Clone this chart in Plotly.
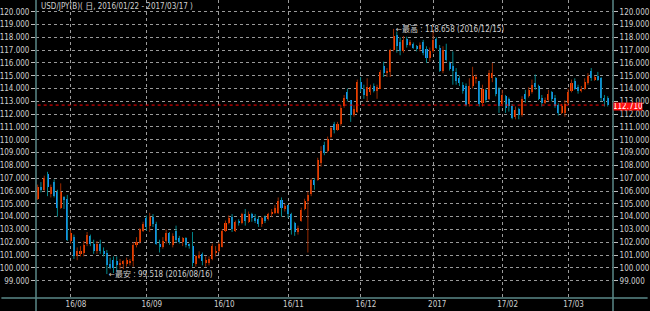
import pandas as pd
import plotly.graph_objects as go

# ---- data -------------------------------------------------------------
dates = [d.strftime("%Y-%m-%d") for d in pd.bdate_range("2016-07-18", "2017-03-17")
         if d.strftime("%Y-%m-%d") != "2017-01-02"]

opens = [
    105.4, 106.3, 106.1, 107.3, 105.8, 106.7, 105.9, 104.7, 105.5, 105.4,
    102.1, 102.4, 100.9, 101.1, 101.2, 101.9, 102.5, 101.9, 101.3, 101.9, 101.3, 101.2,
    100.3, 100.6, 100.5, 100.2, 100.3, 100.3, 100.4, 100.5, 101.8, 102.0, 102.9,
    103.9, 103.3, 104.0, 103.4, 101.9, 101.6, 102.1, 102.7, 101.8, 102.9, 102.3, 102.0,
    102.3, 101.9, 101.7, 100.3, 100.8, 101.1, 100.4, 100.4, 100.7, 101.2,
    101.3, 101.6, 102.9, 103.5, 104.0, 102.9, 103.7, 103.5, 104.2, 103.6, 104.2,
    103.9, 103.8, 103.4, 104.0, 103.8, 104.2, 104.3, 104.3, 105.3, 104.6,
    104.9, 104.2, 103.5, 102.8, 103.7, 104.6, 105.2, 105.8, 106.9, 106.9, 108.2,
    109.6, 109.1, 110.2, 111.2, 110.8, 111.2, 112.6, 113.7, 113.1, 111.9, 112.2,
    114.5, 114.0, 113.4, 113.7, 114.2, 113.8, 114.0, 115.8, 115.2, 115.3, 117.0,
    118.2, 117.6, 116.9, 117.9, 117.4, 117.5, 117.3, 117.1, 117.6, 117.1, 116.4,
    116.9, 117.9, 117.2, 115.4, 117.0, 116.0, 115.8, 115.3, 114.8, 114.3, 114.2,
    112.8, 114.2, 114.8, 114.6, 112.9, 113.9, 113.2, 114.8, 114.8, 114.0,
    112.8, 113.4, 113.2, 112.6, 111.8, 112.4, 111.9, 113.6, 113.4, 113.7,
    114.4, 114.2, 113.3, 112.9, 113.1, 113.7, 113.3, 112.7, 112.1, 112.1,
    112.9, 113.8, 114.6, 114.1, 113.8, 114.0, 114.4, 115.4, 114.7, 115.0, 114.8, 113.3, 113.3,
]
highs = [
    106.5, 106.7, 107.2, 107.5, 106.5, 106.9, 106.1, 106.6, 105.6, 105.7,
    102.95, 102.6, 101.6, 101.7, 102.1, 102.8, 102.6, 102.2, 102.1, 102.2, 101.6, 101.4,
    100.8, 100.9, 100.9, 100.7, 100.6, 100.8, 100.7, 102.0, 102.4, 103.1, 103.6,
    104.1, 104.3, 104.2, 103.6, 102.2, 102.4, 103.0, 102.8, 102.7, 103.3, 102.5, 102.4,
    102.4, 101.9, 102.8, 101.0, 101.3, 101.2, 100.9, 100.9, 101.9, 101.7,
    102.0, 103.0, 103.7, 104.1, 104.2, 103.7, 103.8, 104.3, 104.6, 104.4, 104.3,
    104.2, 104.0, 104.0, 104.1, 104.3, 104.6, 104.9, 105.5, 105.5, 105.0,
    104.9, 104.3, 103.6, 103.3, 104.7, 105.4, 105.95, 107.0, 107.0, 108.6, 109.5,
    109.85, 110.25, 111.0, 111.4, 111.4, 112.7, 113.5, 114.0, 113.1, 112.7, 114.7,
    114.9, 114.3, 114.8, 114.3, 114.4, 114.3, 115.45, 116.1, 115.6, 117.1, 118.658,
    118.45, 118.0, 118.1, 118.05, 117.8, 117.6, 117.4, 117.6, 117.8, 117.3, 117.2,
    118.6, 118.0, 117.4, 117.3, 117.5, 116.1, 116.9, 115.6, 115.0, 114.5, 114.4,
    114.8, 115.7, 115.1, 114.6, 114.3, 114.0, 115.45, 116.0, 114.9, 114.1,
    113.9, 113.5, 113.3, 112.8, 112.6, 112.5, 113.4, 113.9, 114.1, 114.7,
    115.1, 114.3, 113.5, 113.3, 113.9, 113.8, 113.5, 112.85, 112.8, 113.1,
    114.0, 114.7, 114.8, 114.3, 114.2, 114.8, 115.2, 115.6, 115.0, 115.3, 114.9, 113.5, 113.4,
]
lows = [
    105.3, 105.9, 106.0, 105.6, 105.5, 105.5, 104.0, 104.6, 104.6, 102.1,
    101.9, 100.7, 100.6, 100.9, 100.9, 101.7, 101.7, 101.1, 101.1, 101.1, 100.9, 99.518,
    99.9, 99.6, 99.8, 99.9, 99.9, 100.1, 100.2, 100.1, 101.6, 101.9, 102.8,
    102.9, 102.8, 103.2, 101.8, 101.2, 101.5, 101.9, 101.8, 101.6, 102.0, 101.9, 101.7,
    101.6, 101.5, 100.1, 100.1, 100.7, 100.2, 100.1, 100.2, 100.6, 100.9,
    101.2, 101.6, 102.8, 103.4, 102.8, 102.8, 103.3, 103.4, 103.3, 103.5, 103.6,
    103.5, 103.2, 103.2, 103.5, 103.7, 104.0, 104.2, 104.2, 104.0, 104.4,
    103.9, 102.6, 102.5, 102.6, 103.6, 104.5, 101.2, 105.6, 106.1, 106.8, 107.9,
    108.8, 109.0, 110.1, 110.5, 110.7, 111.1, 112.5, 113.0, 111.4, 111.8, 112.1,
    113.75, 113.2, 113.0, 113.5, 113.7, 113.2, 114.0, 114.9, 114.9, 114.9, 116.9,
    116.8, 116.6, 116.8, 117.2, 117.3, 117.1, 116.9, 116.9, 116.6, 116.0, 116.1,
    116.8, 117.1, 115.3, 115.2, 116.1, 115.4, 114.3, 114.3, 114.2, 113.6, 112.6,
    112.6, 114.0, 114.4, 112.6, 112.6, 112.9, 113.1, 114.5, 113.4, 112.1,
    112.6, 112.1, 112.2, 111.6, 111.6, 111.6, 111.8, 112.9, 113.3, 113.6,
    113.9, 113.1, 112.6, 112.8, 113.0, 113.0, 112.5, 111.9, 112.0, 111.8,
    112.8, 113.7, 113.9, 113.6, 113.7, 113.9, 114.3, 114.6, 114.6, 114.6, 113.0, 112.6, 112.6,
]
closes = [
    106.3, 106.1, 107.0, 106.3, 106.3, 105.6, 104.7, 105.9, 105.3, 102.2,
    102.7, 100.9, 101.3, 101.3, 101.8, 102.6, 101.9, 101.3, 101.9, 101.3, 101.1, 100.2,
    100.1, 100.0, 100.2, 100.4, 100.5, 100.6, 100.5, 101.8, 102.0, 103.0, 103.4,
    103.2, 104.0, 103.4, 101.9, 101.6, 102.1, 102.7, 102.0, 102.5, 102.2, 102.0, 102.3,
    101.8, 101.7, 100.4, 100.9, 101.0, 100.5, 100.6, 100.7, 101.7, 101.3,
    101.9, 102.9, 103.5, 103.9, 103.0, 103.6, 103.5, 104.2, 103.7, 104.2, 103.9,
    103.7, 103.4, 103.9, 103.7, 104.2, 104.4, 104.7, 105.2, 104.7, 104.8,
    104.2, 103.0, 102.8, 103.1, 104.5, 105.2, 105.7, 106.9, 106.5, 108.4, 109.1,
    108.95, 110.1, 110.9, 110.8, 111.2, 112.5, 113.3, 113.2, 111.9, 112.4, 114.5,
    114.0, 113.5, 114.1, 114.1, 113.8, 114.1, 115.3, 115.2, 115.4, 117.0, 118.1,
    117.3, 116.9, 117.8, 117.4, 117.6, 117.2, 117.1, 117.4, 116.8, 116.4, 116.9,
    117.8, 117.2, 115.4, 117.0, 116.2, 115.5, 115.4, 114.6, 114.4, 113.8, 112.7,
    114.2, 115.0, 114.9, 112.8, 114.0, 113.1, 115.2, 115.2, 113.6, 112.6,
    113.5, 112.5, 112.6, 111.7, 112.3, 111.9, 113.2, 113.2, 113.9, 114.3,
    114.1, 113.2, 112.9, 113.1, 113.6, 113.2, 112.6, 112.1, 112.6, 112.8,
    113.7, 114.4, 114.0, 113.8, 114.0, 114.5, 115.0, 114.8, 114.9, 114.7, 113.3, 113.0, 112.71,
]

month_ticks = ["2016-08-01", "2016-09-01", "2016-10-03", "2016-11-01", "2016-12-01",
               "2017-01-03", "2017-02-01", "2017-03-01"]
month_labels = ["16/08", "16/09", "16/10", "16/11", "16/12", "2017", "17/02", "17/03"]
price_ticks = list(range(99, 121))
title_text = "USD/JPY(B)( 日, 2016/01/22 - 2017/03/17 )"
last_price = closes[-1]

# ---- styling ----------------------------------------------------------
UP_BODY, UP_WICK = "#ff4500", "#9a2a00"
DN_BODY, DN_WICK = "#1e90ff", "#00868b"
TXT = "#cfcfcf"
GRID = "#9a9a9a"
AXIS = "#5a8888"
FONT = "Liberation Sans Narrow, DejaVu Sans Condensed, Noto Sans CJK JP, sans-serif"

fig = go.Figure()

for is_up, wick_col, body_col in [(True, UP_WICK, UP_BODY), (False, DN_WICK, DN_BODY)]:
    wx, wy, bx, bbase, bh = [], [], [], [], []
    for d, o, h, l, c in zip(dates, opens, highs, lows, closes):
        if (c >= o) != is_up:
            continue
        wx += [d, d, None]
        wy += [l, h, None]
        bx.append(d)
        bbase.append(min(o, c))
        bh.append(max(abs(c - o), 0.06))
    fig.add_trace(go.Scatter(x=wx, y=wy, mode="lines", line=dict(color=wick_col, width=1),
                             hoverinfo="skip", showlegend=False))
    fig.add_trace(go.Bar(x=bx, y=bh, base=bbase, width=0.62, marker=dict(color=body_col, line_width=0),
                         showlegend=False))

# current price line (on the right axis)
fig.add_trace(go.Scatter(x=dates, y=[last_price] * len(dates), mode="lines", yaxis="y2",
                         line=dict(color="#ff0000", width=1, dash="dot"),
                         hoverinfo="skip", showlegend=False))

hi_i = max(range(len(highs)), key=lambda i: highs[i])
lo_i = min(range(len(lows)), key=lambda i: lows[i])

def ymd(s):
    return s.replace("-", "/")

annotations = [
    dict(x=dates[hi_i], y=highs[hi_i], xref="x", yref="y", xanchor="left", yanchor="middle",
         text=f"←最高 : {highs[hi_i]:.3f} ({ymd(dates[hi_i])})", showarrow=False,
         font=dict(size=8, color=TXT, family=FONT)),
    dict(x=dates[lo_i], y=lows[lo_i], xref="x", yref="y", xanchor="left", yanchor="middle",
         text=f"←最安 : {lows[lo_i]:.3f} ({ymd(dates[lo_i])})", showarrow=False,
         font=dict(size=8, color=TXT, family=FONT)),
    dict(x=0.005, y=1.0, xref="paper", yref="paper", xanchor="left", yanchor="top",
         text=title_text, showarrow=False, font=dict(size=8, color=TXT, family=FONT)),
    dict(x=1.0, y=last_price, xref="paper", yref="y", xanchor="left", yanchor="middle",
         text=f"{last_price:.3f}", showarrow=False, bgcolor="#ff1010", borderpad=0,
         width=28, height=7, yshift=-1, font=dict(size=8, color="#ffffff", family=FONT)),
]

shapes = [
    dict(type="line", xref="paper", yref="paper", x0=0, x1=0, y0=-0.05, y1=1.0,
         line=dict(color=AXIS, width=1.5)),
    dict(type="line", xref="paper", yref="paper", x0=1, x1=1, y0=-0.05, y1=1.0,
         line=dict(color=AXIS, width=1.5)),
    dict(type="line", xref="paper", yref="paper", x0=-0.06, x1=1.06, y0=0, y1=0,
         line=dict(color=AXIS, width=1.5)),
]

ytext = [f"{v:.3f}" for v in price_ticks]
yaxis_common = dict(range=[97.65, 120.913], tickvals=price_ticks, ticktext=ytext,
                    ticks="outside", ticklen=4, tickcolor="#bfbfbf", tickwidth=1,
                    tickfont=dict(size=8, color=TXT, family=FONT), zeroline=False,
                    showline=False, fixedrange=True)

fig.update_layout(
    width=650, height=311,
    margin=dict(l=29, r=29, t=0, b=13),
    paper_bgcolor="#000000", plot_bgcolor="#000000",
    barmode="overlay", bargap=0,
    showlegend=False,
    xaxis=dict(type="category", categoryorder="array", categoryarray=dates,
               range=[-0.5, 174.6], tickvals=month_ticks, ticktext=month_labels,
               ticklabelposition="outside right", ticklabelshift=-5, ticks="", showgrid=True,
               gridcolor=GRID, griddash="dot", gridwidth=1, zeroline=False, showline=False,
               tickfont=dict(size=8, color=TXT, family=FONT)),
    yaxis=dict(side="left", showgrid=True, gridcolor=GRID, griddash="dot", gridwidth=1,
               **yaxis_common),
    yaxis2=dict(side="right", overlaying="y", matches="y", showgrid=False, **yaxis_common),
    annotations=annotations,
    shapes=shapes,
)

fig.write_html("out.html")
